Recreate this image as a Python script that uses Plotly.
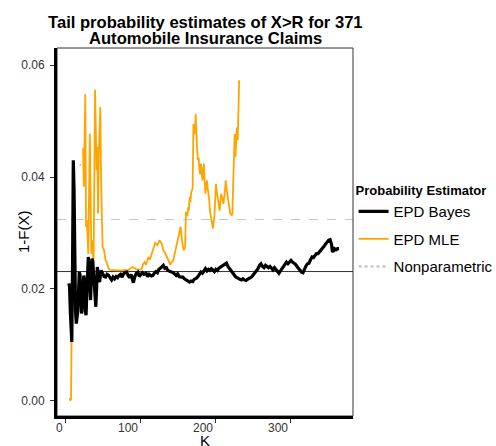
import plotly.graph_objects as go

# EPD Bayes tail-probability estimate by number of upper order statistics k
K_BAYES = [5, 6, 7, 8, 9, 10, 11, 12, 13, 14, 15, 17, 19, 20, 22, 23, 25, 26, 27, 28,
           29, 31, 32, 33, 34, 35, 36, 37, 39, 41, 42, 43, 44, 46, 48, 50, 52, 54, 56, 58,
           60, 62, 64, 66, 68, 70, 72, 74, 76, 78, 80, 82, 84, 86, 88, 90, 91, 93, 95, 97,
           99, 101, 103, 105, 108, 110, 112, 115, 117, 119, 121, 123, 125, 127, 129, 131, 133, 135, 137, 140,
           142, 144, 146, 148, 150, 152, 155, 157, 159, 161, 163, 166, 168, 170, 172, 175, 177, 179, 181, 183,
           185, 187, 189, 191, 193, 195, 197, 199, 201, 203, 205, 207, 209, 211, 213, 215, 217, 219, 221, 223,
           225, 227, 229, 231, 233, 235, 237, 239, 241, 243, 245, 247, 249, 251, 253, 255, 257, 259, 261, 263,
           265, 267, 269, 271, 273, 275, 277, 279, 281, 283, 285, 287, 289, 291, 293, 295, 297, 299, 301, 303,
           305, 307, 309, 311, 313, 315, 317, 319, 321, 323, 325, 327, 329, 331, 333, 335, 337, 339, 341, 343,
           345, 347, 349, 351, 353, 355, 356, 357, 359, 361, 363, 365]
P_BAYES = [0.0210, 0.0204, 0.0160, 0.0110, 0.0105, 0.0240, 0.0430, 0.0380, 0.0240, 0.0160,
           0.0138, 0.0160, 0.0230, 0.0225, 0.0156, 0.0170, 0.0224, 0.0215, 0.0160, 0.0153,
           0.0190, 0.0257, 0.0240, 0.0200, 0.0180, 0.0220, 0.0254, 0.0248, 0.0200, 0.0168,
           0.0200, 0.0239, 0.0230, 0.0212, 0.0233, 0.0228, 0.0222, 0.0221, 0.0226, 0.0224,
           0.0219, 0.0216, 0.0221, 0.0218, 0.0222, 0.0220, 0.0224, 0.0226, 0.0221, 0.0227,
           0.0229, 0.0230, 0.0224, 0.0220, 0.0226, 0.0214, 0.0211, 0.0222, 0.0228, 0.0230,
           0.0222, 0.0226, 0.0229, 0.0226, 0.0228, 0.0222, 0.0226, 0.0223, 0.0224, 0.0228,
           0.0231, 0.0229, 0.0235, 0.0237, 0.0240, 0.0242, 0.0237, 0.0238, 0.0233, 0.0232,
           0.0230, 0.0229, 0.0226, 0.0224, 0.0227, 0.0222, 0.0221, 0.0221, 0.0218, 0.0216,
           0.0214, 0.0212, 0.0214, 0.0213, 0.0217, 0.0219, 0.0222, 0.0227, 0.0230, 0.0228,
           0.0233, 0.0236, 0.0232, 0.0235, 0.0233, 0.0236, 0.0234, 0.0231, 0.0235, 0.0233,
           0.0237, 0.0239, 0.0241, 0.0243, 0.0244, 0.0246, 0.0240, 0.0236, 0.0233, 0.0230,
           0.0225, 0.0222, 0.0220, 0.0218, 0.0217, 0.0216, 0.0218, 0.0216, 0.0215, 0.0217,
           0.0218, 0.0220, 0.0222, 0.0225, 0.0228, 0.0232, 0.0236, 0.0242, 0.0245, 0.0240,
           0.0238, 0.0242, 0.0240, 0.0238, 0.0240, 0.0236, 0.0234, 0.0238, 0.0235, 0.0231,
           0.0228, 0.0232, 0.0236, 0.0240, 0.0246, 0.0248, 0.0245, 0.0248, 0.0251, 0.0248,
           0.0246, 0.0244, 0.0240, 0.0236, 0.0233, 0.0230, 0.0229, 0.0236, 0.0241, 0.0245,
           0.0246, 0.0252, 0.0257, 0.0256, 0.0260, 0.0263, 0.0263, 0.0266, 0.0268, 0.0272,
           0.0276, 0.0280, 0.0284, 0.0287, 0.0288, 0.0280, 0.0268, 0.0266, 0.0272, 0.0270,
           0.0272, 0.0272]

# EPD maximum-likelihood estimate (None marks k where the fit did not converge)
K_MLE = [6, 7, 8, 9, 10, 11, 12, 13, 20, 21, 22, 24, 25, 27, 28, 29, 30, 31, 33, 34,
         35, 36, 38, 40, 41, 42, 43, 44, 45, 47, 48, 49, 50, 52, 54, 56, 58, 60, 65, 70,
         75, 80, 84, 87, 90, 93, 96, 100, 102, 104, 106, 108, 111, 113, 115, 118, 120, 123, 126, 129,
         131, 133, 135, 138, 140, 142, 144, 146, 148, 150, 152, 154, 156, 158, 160, 161, 163, 164, 165, 166,
         167, 168, 170, 171, 172, 173, 174, 175, 176, 177, 178, 179, 180, 181, 182, 183, 184, 185, 186, 187,
         188, 189, 190, 191, 192, 193, 195, 197, 199, 201, 202, 204, 206, 207, 208, 210, 211, 213, 214, 215,
         217, 219, 220, 222, 223, 224, 225, 226, 227, 228, 229, 230, 231, 232]
P_MLE = [0.0005, 0.0001, 0.0002, 0.0160, 0.0329, 0.0290, 0.0250, None, 0.0423, 0.0421,
         None, 0.0452, 0.0382, 0.0548, 0.0311, 0.0323, 0.0272, 0.0262, 0.0478, 0.0300,
         0.0263, 0.0287, 0.0245, 0.0556, 0.0470, 0.0412, 0.0454, 0.0335, 0.0442, 0.0525,
         0.0394, 0.0300, 0.0275, 0.0269, 0.0251, 0.0246, 0.0237, 0.0234, 0.0233, 0.0233,
         0.0233, 0.0234, 0.0233, 0.0237, 0.0239, 0.0237, 0.0234, 0.0235, 0.0236, 0.0244,
         0.0248, 0.0243, 0.0257, 0.0252, 0.0260, 0.0270, 0.0282, 0.0278, 0.0287, 0.0280,
         0.0269, 0.0265, 0.0260, 0.0250, 0.0243, 0.0248, 0.0250, 0.0262, 0.0275, 0.0290,
         0.0300, 0.0311, 0.0285, 0.0269, 0.0275, 0.0338, 0.0330, 0.0346, 0.0340, 0.0364,
         0.0355, 0.0372, 0.0380, 0.0495, 0.0480, 0.0477, 0.0513, 0.0470, 0.0448, 0.0430,
         0.0435, 0.0412, 0.0405, 0.0424, 0.0400, 0.0394, 0.0410, 0.0424, 0.0390, 0.0370,
         0.0385, 0.0394, 0.0380, 0.0372, 0.0360, 0.0340, 0.0320, 0.0308, 0.0330, 0.0388,
         0.0375, 0.0358, 0.0340, 0.0355, 0.0370, 0.0360, 0.0352, 0.0375, 0.0394, 0.0380,
         0.0364, 0.0350, 0.0335, 0.0332, 0.0333, 0.0390, 0.0430, 0.0477, 0.0436, 0.0460,
         0.0489, 0.0466, 0.0520, 0.0573]

NONPARAMETRIC = 0.0324   # empirical tail probability
REFERENCE_LEVEL = 0.0231

X_TICKS = [0, 100, 200, 300]
X_TICK_LABELS = ["0", "100", "200", "300"]
Y_TICKS = [0.00, 0.02, 0.04, 0.06]
Y_TICK_LABELS = ["0.00", "0.02", "0.04", "0.06"]

TITLE_LINES = ["Tail probability estimates of X>R for 371", "Automobile Insurance Claims"]
FONT = "Liberation Sans, Arial, sans-serif"

fig = go.Figure()
fig.add_trace(go.Scatter(
    x=K_MLE, y=P_MLE, mode="lines", name="EPD MLE", connectgaps=False,
    line=dict(color="#FFA500", width=1.8), legendgroup="mle", legendrank=2,
))
fig.add_trace(go.Scatter(
    x=K_BAYES, y=P_BAYES, mode="lines", name="EPD Bayes",
    line=dict(color="black", width=3.2), legendgroup="bayes", legendrank=1,
))
fig.add_trace(go.Scatter(
    x=[None], y=[None], mode="lines", name="Nonparametric",
    line=dict(color="#C8C8C8", width=2.5, dash="dot"), legendgroup="np", legendrank=3,
))

fig.add_hline(y=NONPARAMETRIC, line=dict(color="#C8C8C8", width=1, dash="dash"), layer="below")
fig.add_hline(y=REFERENCE_LEVEL, line=dict(color="#333333", width=1), layer="below")

# thin panel frame (top/right), thick axis lines come from the axes
fig.add_shape(type="rect", xref="paper", yref="paper", x0=0, x1=1, y0=0, y1=1,
              line=dict(color="#333333", width=1), layer="below")

annotations = []
for tv, tl in zip(X_TICKS, X_TICK_LABELS):
    annotations.append(dict(x=tv, xref="x", y=0, yref="paper", text=tl, showarrow=False,
                            xanchor="right", yanchor="top", yshift=-3,
                            font=dict(family=FONT, size=12, color="#333333")))
annotations.append(dict(x=0.5, xref="paper", y=1, yref="paper", text=f"<b>{TITLE_LINES[0]}</b>",
                        showarrow=False, xanchor="center", yanchor="middle", yshift=26,
                        font=dict(family=FONT, size=16.6, color="black")))
annotations.append(dict(x=0.5, xref="paper", y=1, yref="paper", text=f"<b>{TITLE_LINES[1]}</b>",
                        showarrow=False, xanchor="center", yanchor="middle", yshift=10,
                        font=dict(family=FONT, size=16.6, color="black")))
annotations.append(dict(x=0.5, xref="paper", y=0, yref="paper", text="K", showarrow=False,
                        xanchor="center", yanchor="middle", yshift=-24,
                        font=dict(family=FONT, size=15, color="black")))
annotations.append(dict(x=0, xref="paper", y=0.5, yref="paper", text="1-F(X)", showarrow=False,
                        textangle=-90, xanchor="center", yanchor="middle", xshift=-34,
                        font=dict(family=FONT, size=15, color="black")))

fig.update_layout(
    width=496, height=446,
    margin=dict(l=57.3, r=143, t=47.5, b=30, pad=0, autoexpand=False),
    paper_bgcolor="white", plot_bgcolor="white",
    font=dict(family=FONT, color="black"),
    showlegend=True,
    legend=dict(
        x=1.002, xanchor="left", y=0.646, yanchor="top",
        font=dict(family=FONT, size=15, color="black"),
        title=dict(text="<b>Probability Estimator</b>", font=dict(family=FONT, size=13)),
        tracegroupgap=5, bgcolor="rgba(0,0,0,0)",
    ),
    annotations=annotations,
    xaxis=dict(
        range=[-10.7, 383.6], tickvals=X_TICKS, showticklabels=False,
        ticks="outside", ticklen=4, tickcolor="#333333", tickwidth=1,
        showline=True, linecolor="black", linewidth=3,
        showgrid=False, zeroline=False,
    ),
    yaxis=dict(
        range=[-0.00273, 0.06307], tickvals=Y_TICKS, ticktext=Y_TICK_LABELS,
        ticks="outside", ticklen=4, tickcolor="#333333", tickwidth=1,
        tickfont=dict(family=FONT, size=12, color="#333333"), ticklabelstandoff=3,
        showline=True, linecolor="black", linewidth=3,
        showgrid=False, zeroline=False,
    ),
)

fig.write_html("out.html")
